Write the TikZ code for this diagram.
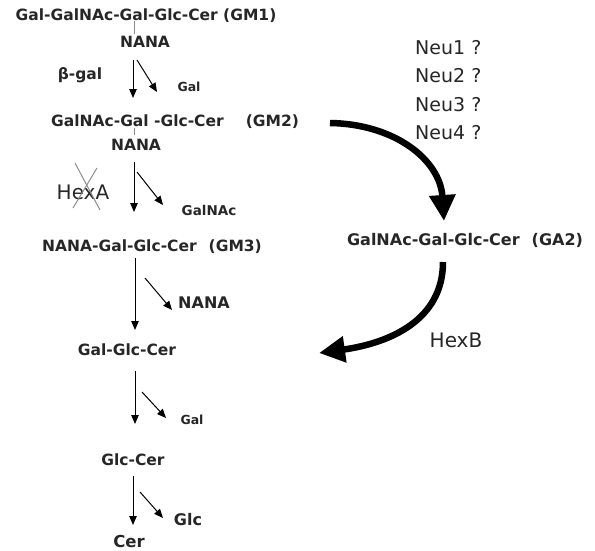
\documentclass[tikz,border=0pt]{standalone}
\usepackage{fontspec}
\setmainfont{DejaVu Sans}
\usetikzlibrary{arrows.meta}
\begin{document}
\begin{tikzpicture}[x=1pt,y=-1pt,
  lbl/.style={font=\bfseries\fontsize{15.5}{17}\selectfont, inner sep=0pt, text=black!85},
  sml/.style={font=\bfseries\fontsize{12.5}{14}\selectfont, inner sep=0pt, text=black!85},
  neu/.style={font=\fontsize{19}{21}\selectfont, inner sep=0pt, anchor=west, text=black!85},
  thin/.style={line width=1pt, -{Triangle[length=9pt,width=7.5pt]}},
  fat/.style={line width=6.5pt, -{Triangle[length=26pt,width=25pt]}},
  gline/.style={line width=1pt, draw=black!45}]
\useasboundingbox (0,0) rectangle (595,550);
% main column
\node[lbl] (gm1) at (146,16) {Gal-GalNAc-Gal-Glc-Cer (GM1)};
\node[lbl] (nana1) at (145,42) {NANA};
\node[lbl] (bgal) at (80,75) {β-gal};
\node[sml] (gal1) at (189,87) {Gal};
\node[lbl] (gm2) at (175,122) {GalNAc-Gal -Glc-Cer\hspace{22pt}(GM2)};
\node[lbl] (nana2) at (136,145) {NANA};
\node[lbl,font=\fontsize{20}{22}\selectfont] (hexa) at (83,192) {HexA};
\node[sml,font=\bfseries\fontsize{13.5}{15}\selectfont] (galnac) at (209,210) {GalNAc};
\node[lbl] (gm3) at (152,247) {NANA-Gal-Glc-Cer\hspace{12pt}(GM3)};
\node[lbl,font=\bfseries\fontsize{16}{18}\selectfont] (nana3) at (204,303) {NANA};
\node[lbl] (lac) at (127,350) {Gal-Glc-Cer};
\node[sml] (gal2) at (192,420) {Gal};
\node[lbl] (glccer) at (133,460) {Glc-Cer};
\node[lbl,font=\bfseries\fontsize{16}{18}\selectfont] (glc) at (188,520) {Glc};
\node[lbl,font=\bfseries\fontsize{16.5}{18}\selectfont] (cer) at (129,541) {Cer};
% right side
\node[neu] (neu1) at (415,48) {Neu1 ?};
\node[neu] (neu2) at (415,76) {Neu2 ?};
\node[neu] (neu3) at (415,105) {Neu3 ?};
\node[neu] (neu4) at (415,133) {Neu4 ?};
\node[lbl,font=\bfseries\fontsize{16}{18}\selectfont] (ga2) at (465,240) {GalNAc-Gal-Glc-Cer\hspace{12pt}(GA2)};
\node[neu,anchor=center,font=\fontsize{20}{22}\selectfont] (hexb) at (456,340) {HexB};
% gray link lines
\coordinate (l1a) at (134,21); \coordinate (l1b) at (134,34);
\coordinate (l2a) at (134,128); \coordinate (l2b) at (134,135);
\draw[gline] (l1a) -- (l1b);
\draw[gline] (l2a) -- (l2b);
% HexA cross
\coordinate (x1a) at (75,163); \coordinate (x1b) at (100,210);
\coordinate (x2a) at (97,168); \coordinate (x2b) at (73,208);
\draw[gline] (x1a) -- (x1b);
\draw[gline] (x2a) -- (x2b);
% step arrows
\coordinate (d1a) at (133,60); \coordinate (d1b) at (133,98);
\coordinate (e1a) at (137,60); \coordinate (e1b) at (157,92);
\coordinate (d2a) at (134,162); \coordinate (d2b) at (134,212);
\coordinate (e2a) at (137,172); \coordinate (e2b) at (163,205);
\coordinate (d3a) at (135,258); \coordinate (d3b) at (135,330);
\coordinate (e3a) at (145,278); \coordinate (e3b) at (172,310);
\coordinate (d4a) at (135,371); \coordinate (d4b) at (135,424);
\coordinate (e4a) at (142,392); \coordinate (e4b) at (166,418);
\coordinate (d5a) at (133,476); \coordinate (d5b) at (133,525);
\coordinate (e5a) at (140,492); \coordinate (e5b) at (163,518);
\foreach \i in {1,...,5}{
  \draw[thin] (d\i a) -- (d\i b);
  \draw[thin] (e\i a) -- (e\i b);
}
% thick curved arrows
\coordinate (f1a) at (330,123); \coordinate (f1b) at (444,221);
\coordinate (f2a) at (443,262); \coordinate (f2b) at (319,353);
\draw[fat] (f1a) .. controls (395,124) and (440,160) .. (f1b);
\draw[fat] (f2a) .. controls (443,320) and (390,343) .. (f2b);
\end{tikzpicture}
\end{document}
